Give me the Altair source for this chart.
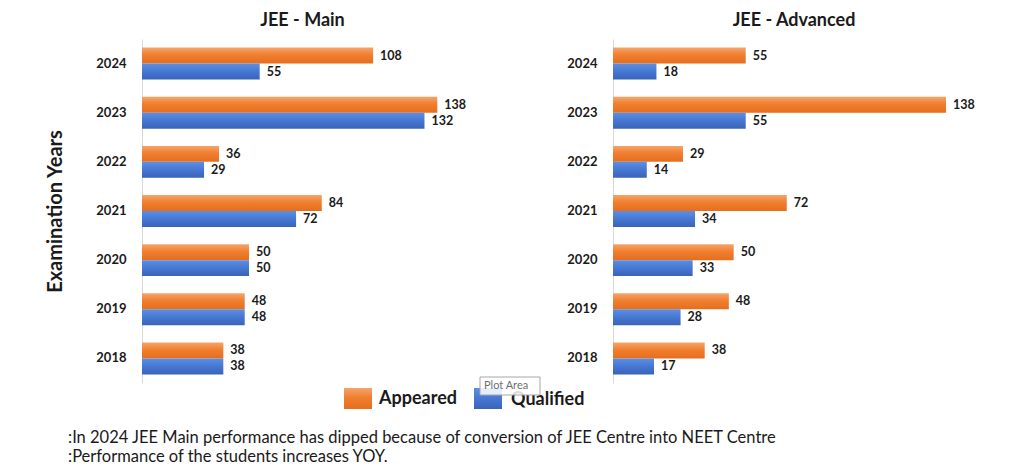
import altair as alt
import pandas as pd

years = ["2024", "2023", "2022", "2021", "2020", "2019", "2018"]
series = ["Appeared", "Qualified"]
main_appeared = [108, 138, 36, 84, 50, 48, 38]
main_qualified = [55, 132, 29, 72, 50, 48, 38]
adv_appeared = [55, 138, 29, 72, 50, 48, 38]
adv_qualified = [18, 55, 14, 34, 33, 28, 17]
panel_titles = ["JEE - Main", "JEE - Advanced"]
notes = [
    ":In 2024 JEE  Main performance  has dipped because of conversion of JEE Centre into NEET Centre",
    ":Performance of the students increases YOY.",
]

rows = []
for exam, app, qual in [("Main", main_appeared, main_qualified), ("Advanced", adv_appeared, adv_qualified)]:
    for y, a, q in zip(years, app, qual):
        rows.append({"exam": exam, "year": y, "series": "Appeared", "value": a})
        rows.append({"exam": exam, "year": y, "series": "Qualified", "value": q})
df = pd.DataFrame(rows)

FONT = "Lato"
NOVIEW = alt.ViewBackground(stroke="transparent", strokeWidth=0)

orange_grad = alt.Gradient(
    gradient="linear", x1=0, x2=0, y1=0, y2=1,
    stops=[alt.GradientStop(color="#F6A46A", offset=0),
           alt.GradientStop(color="#F07F30", offset=0.45),
           alt.GradientStop(color="#E56E1D", offset=1)])
blue_grad = alt.Gradient(
    gradient="linear", x1=0, x2=0, y1=0, y2=1,
    stops=[alt.GradientStop(color="#5C8FE3", offset=0),
           alt.GradientStop(color="#4677D2", offset=0.5),
           alt.GradientStop(color="#3A63B8", offset=1)])


def panel(exam, title, width, show_title):
    d = df[df.exam == exam]
    y_axis = alt.Axis(
        labelFont=FONT, labelFontSize=13, labelFontWeight="bold", labelColor="#1a1a1a",
        labelPadding=16, ticks=False, domainColor="#D9D9D9", grid=False,
        title="Examination Years" if show_title else None,
        titleFont=FONT, titleFontSize=20, titleFontWeight="bold", titleColor="#1a1a1a",
        titlePadding=30,
    )
    base = alt.Chart(d).encode(
        y=alt.Y("year:N", sort=years,
                scale=alt.Scale(paddingInner=0.35, paddingOuter=0.175),
                axis=y_axis),
        yOffset=alt.YOffset("series:N", scale=alt.Scale(domain=series, paddingInner=0, paddingOuter=0)),
        x=alt.X("value:Q", scale=alt.Scale(domain=[0, 150]), axis=None),
    )
    bars_a = base.transform_filter(alt.datum.series == "Appeared").mark_bar(color=orange_grad)
    bars_q = base.transform_filter(alt.datum.series == "Qualified").mark_bar(color=blue_grad)
    labels = base.mark_text(align="left", baseline="middle", dx=7, font=FONT, fontSize=12.5,
                            fontWeight="bold", color="#1a1a1a").encode(text="value:Q")
    return alt.layer(bars_a, bars_q, labels).properties(
        width=width, height=344, view=NOVIEW,
        title=alt.TitleParams(title, font=FONT, fontSize=18, fontWeight="bold", color="#1a1a1a",
                              frame="group", anchor="middle", offset=9),
    )


left = panel("Main", panel_titles[0], 321, True)
right = panel("Advanced", panel_titles[1], 362, False)

# legend, "Plot Area" tooltip box and notes, placed relative to left panel origin
one = pd.DataFrame({"k": [0]})


def text_at(t, x, y, size, weight="normal", color="#1a1a1a"):
    return alt.Chart(pd.DataFrame({"t": [t]})).mark_text(
        align="left", baseline="middle", font=FONT, fontSize=size, fontWeight=weight, color=color
    ).encode(x=alt.value(x), y=alt.value(y), text="t:N")


leg_a = alt.Chart(one).mark_rect(color=orange_grad).encode(
    x=alt.value(202), x2=alt.value(230), y=alt.value(349), y2=alt.value(370))
leg_q = alt.Chart(one).mark_rect(color=blue_grad).encode(
    x=alt.value(332), x2=alt.value(360), y=alt.value(349), y2=alt.value(370))
leg_ta = text_at(series[0], 237, 360, 18, "bold")
leg_tq = text_at(series[1], 369, 361, 18, "bold")
tip_box = alt.Chart(one).mark_rect(fill="white", fillOpacity=0.85, stroke="#A6A6A6", strokeWidth=1).encode(
    x=alt.value(338), x2=alt.value(398), y=alt.value(338), y2=alt.value(356))
tip_txt = text_at("Plot Area", 342, 347, 11, "normal", "#707070")
note1 = text_at(notes[0], -74, 399, 16.5)
note2 = text_at(notes[1], -74, 418, 16.5)

left = alt.layer(left, leg_a, leg_q, leg_ta, leg_tq, tip_box, tip_txt, note1, note2).properties(
    width=321, height=344, view=NOVIEW)

chart = alt.hconcat(left, right, spacing=150, bounds="flush").properties(
    padding={"left": 45, "top": 12, "right": 5, "bottom": 5}
).configure_view(stroke="transparent", strokeWidth=0).configure(background="white")

chart.save("out.html", embed_options={"renderer": "svg", "actions": False})
